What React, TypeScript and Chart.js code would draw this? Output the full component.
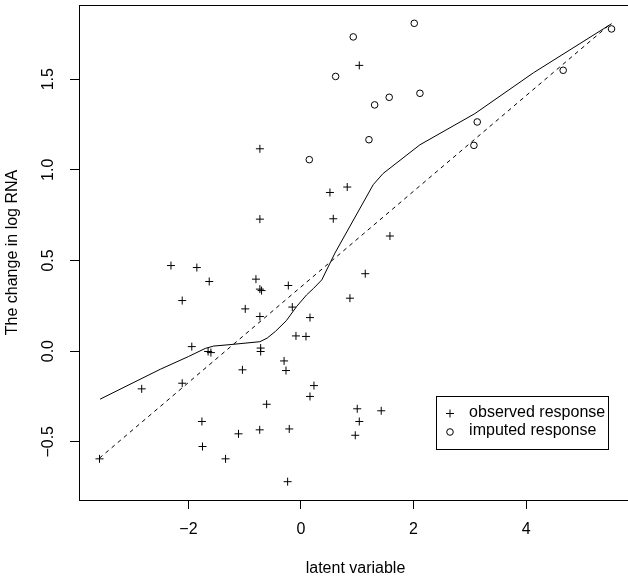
import React, { useEffect, useRef } from "react";
import { Chart, registerables } from "chart.js";

Chart.register(...registerables);

// observed response (+)
const OBS_X = [-3.58, -2.83, -2.31, -2.11, -2.11, -1.94, -1.85, -1.76, -1.75, -1.63, -1.65, -1.6, -1.34, -1.11, -1.04, -0.99, -0.8, -0.73, -0.73, -0.73, -0.7, -0.73, -0.716, -0.716, -0.733, -0.61, -0.3, -0.266, -0.225, -0.154, -0.208, -0.237, -0.089, 0.089, 0.16, 0.231, 0.16, 0.515, 0.574, 0.822, 0.87, 1.036, 1.142, 1.581, 1.0, 1.036, 0.965, 1.426];
const OBS_Y = [-0.594, -0.208, 0.472, 0.279, -0.177, 0.025, 0.461, -0.388, -0.526, 0.384, -0.002, -0.008, -0.594, -0.456, -0.103, 0.233, 0.397, 1.116, 0.728, 0.342, 0.334, 0.191, 0.017, -0.002, -0.434, -0.293, -0.054, -0.107, 0.362, 0.243, -0.429, -0.72, 0.084, 0.081, 0.185, -0.19, -0.25, 0.875, 0.73, 0.905, 0.292, 1.576, 0.427, 0.635, -0.318, -0.388, -0.464, -0.329];

// imputed response (o)
const IMP_X = [0.148, 0.616, 0.929, 1.208, 1.309, 1.568, 2.013, 2.114, 3.073, 3.132, 4.659, 5.518];
const IMP_Y = [1.056, 1.515, 1.733, 1.166, 1.358, 1.4, 1.808, 1.422, 1.135, 1.264, 1.549, 1.777];

// smooth curve (solid)
const SMOOTH_X = [-3.57, -2.5, -2.0, -1.7, -1.55, -1.26, -0.73, -0.6, -0.45, -0.26, -0.08, 0.1, 0.22, 0.37, 0.604, 1.284, 1.46, 2.114, 3.09, 4.13, 5.52];
const SMOOTH_Y = [-0.265, -0.1, -0.03, 0.015, 0.028, 0.036, 0.052, 0.072, 0.11, 0.168, 0.245, 0.31, 0.345, 0.393, 0.541, 0.918, 0.98, 1.138, 1.31, 1.535, 1.806];

// fitted straight line (dashed)
const FIT_X = [-3.58, 5.52];
const FIT_Y = [-0.59, 1.81];

const X_TICKS = [-2, 0, 2, 4];
const Y_TICKS = [-0.5, 0, 0.5, 1, 1.5];
const X_RANGE = [-3.944, 5.882];
const Y_RANGE = [-0.821, 1.909];

const LEGEND_LABELS = ["observed response", "imputed response"];
const LEGEND_POS = [2.4, -0.25];

const FONT = "'Liberation Sans', Arial, Helvetica, sans-serif";

const minus = (s: string) => s.replace("-", "\u2212");
const fmtX = (v: number) => minus(String(v));
const fmtY = (v: number) => minus(v.toFixed(1));

const zip = (xs: number[], ys: number[]) => xs.map((x, i) => ({ x, y: ys[i] }));

function drawCross(ctx: CanvasRenderingContext2D, x: number, y: number, r: number) {
  ctx.beginPath();
  ctx.moveTo(x - r, y);
  ctx.lineTo(x + r, y);
  ctx.moveTo(x, y - r);
  ctx.lineTo(x, y + r);
  ctx.stroke();
}

export default function App() {
  const ref = useRef<HTMLCanvasElement>(null);

  useEffect(() => {
    const canvas = ref.current;
    if (!canvas) return;

    const rPlugin = {
      id: "rStyle",
      afterDraw(chart: any) {
        const { ctx, chartArea: a, scales } = chart;
        ctx.save();
        ctx.strokeStyle = "#000";
        ctx.fillStyle = "#000";
        ctx.lineWidth = 1;
        // box around the plot region
        const l = Math.round(a.left) + 0.5;
        const t = Math.round(a.top) + 0.5;
        const b = Math.round(a.bottom) + 0.5;
        const r = Math.round(a.right) + 0.5;
        ctx.strokeRect(l, t, r - l, b - t);

        // y tick labels, parallel to the axis
        const ys = scales.y;
        ctx.font = `16px ${FONT}`;
        ctx.textAlign = "center";
        ctx.textBaseline = "middle";
        ys.ticks.forEach((tk: any) => {
          const p = ys.getPixelForValue(tk.value);
          ctx.save();
          ctx.translate(a.left - 30, p);
          ctx.rotate(-Math.PI / 2);
          ctx.fillText(fmtY(tk.value), 0, 0);
          ctx.restore();
        });

        // legend
        const xs = scales.x;
        const lx = Math.round(xs.getPixelForValue(LEGEND_POS[0])) + 0.5;
        const ly = Math.round(ys.getPixelForValue(LEGEND_POS[1])) + 0.5;
        ctx.textAlign = "left";
        const maxW = Math.max(...LEGEND_LABELS.map((s) => ctx.measureText(s).width));
        const bw = Math.round(32.6 + maxW + 3);
        const bh = 53;
        ctx.strokeRect(lx, ly, bw, bh);
        const rows = [ly + 16, ly + 34];
        drawCross(ctx, lx + 13.5, rows[0] + 1, 4);
        ctx.beginPath();
        ctx.arc(lx + 13.5, rows[1] + 1.5, 3.3, 0, Math.PI * 2);
        ctx.stroke();
        LEGEND_LABELS.forEach((s, i) => ctx.fillText(s, lx + 32.6, rows[i]));
        ctx.restore();
      },
    };

    const chart = new Chart(canvas, {
      type: "scatter",
      data: {
        datasets: [
          {
            label: LEGEND_LABELS[0],
            data: zip(OBS_X, OBS_Y),
            pointStyle: "cross",
            pointRadius: 4,
            borderColor: "#000",
            backgroundColor: "#000",
            borderWidth: 1,
            showLine: false,
          },
          {
            label: LEGEND_LABELS[1],
            data: zip(IMP_X, IMP_Y),
            pointStyle: "circle",
            pointRadius: 3.3,
            borderColor: "#000",
            backgroundColor: "rgba(0,0,0,0)",
            borderWidth: 1,
            showLine: false,
          },
          {
            label: "smooth",
            data: zip(SMOOTH_X, SMOOTH_Y),
            showLine: true,
            pointRadius: 0,
            borderColor: "#000",
            borderWidth: 1,
            fill: false,
            tension: 0,
          },
          {
            label: "fit",
            data: zip(FIT_X, FIT_Y),
            showLine: true,
            pointRadius: 0,
            borderColor: "#000",
            borderWidth: 1,
            borderDash: [4, 4],
            fill: false,
          },
        ],
      },
      options: {
        animation: false,
        responsive: false,
        devicePixelRatio: 1,
        layout: { padding: { top: 5, right: 8, left: 0, bottom: 0 } },
        plugins: { legend: { display: false }, tooltip: { enabled: false } },
        scales: {
          x: {
            type: "linear",
            min: X_RANGE[0],
            max: X_RANGE[1],
            afterBuildTicks: (s: any) => {
              s.ticks = X_TICKS.map((value) => ({ value }));
            },
            afterFit: (s: any) => {
              s.height = 79;
            },
            ticks: {
              callback: (v: any) => fmtX(Number(v)),
              color: "#000",
              font: { family: FONT, size: 16, lineHeight: 1.2 },
              padding: 11,
              maxRotation: 0,
              autoSkip: false,
            },
            grid: {
              display: true,
              drawOnChartArea: false,
              drawTicks: true,
              tickLength: 9,
              color: "#000",
              lineWidth: 1,
            },
            border: { display: false },
            title: {
              display: true,
              text: "latent variable",
              color: "#000",
              font: { family: FONT, size: 16, lineHeight: 1.25 },
              padding: { top: 0, bottom: 0 },
            },
          },
          y: {
            type: "linear",
            min: Y_RANGE[0],
            max: Y_RANGE[1],
            afterBuildTicks: (s: any) => {
              s.ticks = Y_TICKS.map((value) => ({ value }));
            },
            afterFit: (s: any) => {
              s.width = 79;
            },
            ticks: { display: false },
            grid: {
              display: true,
              drawOnChartArea: false,
              drawTicks: true,
              tickLength: 9,
              color: "#000",
              lineWidth: 1,
            },
            border: { display: false },
            title: {
              display: true,
              text: "The change in log RNA",
              color: "#000",
              font: { family: FONT, size: 16, lineHeight: 1.25 },
              padding: { top: 2.7, bottom: 0 },
            },
          },
        },
      },
      plugins: [rPlugin],
    } as any);

    return () => chart.destroy();
  }, []);

  return (
    <div
      style={{
        position: "fixed",
        left: 0,
        top: 0,
        width: 628,
        height: 579,
        overflow: "hidden",
        background: "#fff",
      }}
    >
      <canvas ref={ref} width={640} height={579} style={{ display: "block", width: 640, height: 579 }} />
    </div>
  );
}
